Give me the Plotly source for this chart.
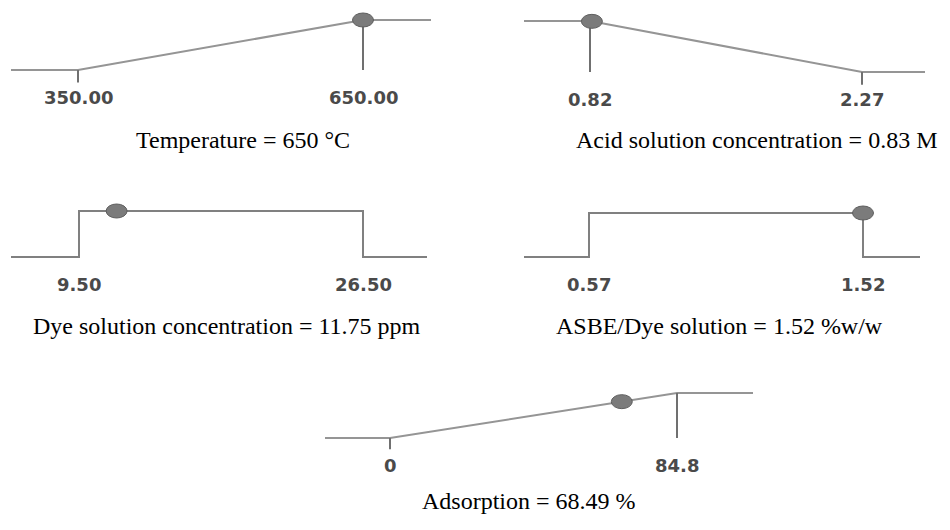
import numpy as np
import plotly.graph_objects as go

W, H = 950, 530

# ---- data ----
names = ["Temperature", "Acid solution concentration", "Dye solution concentration",
         "ASBE/Dye solution", "Adsorption"]
units = ["°C", "M", "ppm", "%w/w", "%"]
lows = [350.00, 0.82, 9.50, 0.57, 0.0]
highs = [650.00, 2.27, 26.50, 1.52, 84.8]
values = [650, 0.83, 11.75, 1.52, 68.49]
value_text = ["650", "0.83", "11.75", "1.52", "68.49"]
goals = ["maximize", "minimize", "in range", "in range", "maximize"]
low_labels = ["350.00", "0.82", "9.50", "0.57", "0"]
high_labels = ["650.00", "2.27", "26.50", "1.52", "84.8"]

# ---- layout (pixel positions of each panel) ----
# left end, low, high, right end, baseline y, top y, caption centre x, caption y
panels = [
    dict(xl=11, xlo=78, xhi=363, xr=431, y0=70, y1=20, cx=243, cy=140),
    dict(xl=524, xlo=590, xhi=862, xr=925, y0=72, y1=21, cx=756, cy=140),
    dict(xl=11, xlo=79, xhi=363, xr=427, y0=257, y1=211, cx=227, cy=326),
    dict(xl=524, xlo=589, xhi=863, xr=920, y0=257, y1=213, cx=719, cy=326),
    dict(xl=325, xlo=390, xhi=677, xr=753, y0=438, y1=393, cx=529, cy=501),
]

LINE = "#959595"
VLINE = "#707070"
PAD = 0.25

fig = go.Figure()
shapes = []
annotations = []
layout_axes = {}

for i, p in enumerate(panels):
    n = i + 1
    xa = "x" if n == 1 else f"x{n}"
    ya = "y" if n == 1 else f"y{n}"
    lo, hi = lows[i], highs[i]
    k = (hi - lo) / (p["xhi"] - p["xlo"])
    r0 = lo - (p["xlo"] - p["xl"]) * k
    r1 = hi + (p["xr"] - p["xhi"]) * k
    span = p["y0"] - p["y1"]
    dom_bot = 1 - (p["y0"] + PAD * span) / H
    dom_top = 1 - (p["y1"] - PAD * span) / H

    layout_axes["xaxis" if n == 1 else f"xaxis{n}"] = dict(
        domain=[p["xl"] / W, p["xr"] / W], range=[r0, r1], visible=False,
        anchor=ya, fixedrange=True)
    layout_axes["yaxis" if n == 1 else f"yaxis{n}"] = dict(
        domain=[dom_bot, dom_top], range=[-PAD, 1 + PAD], visible=False,
        anchor=xa, fixedrange=True)

    g = goals[i]
    if g == "maximize":
        px = [r0, lo, hi, r1]
        py = [0, 0, 1, 1]
        edge, tick_at = hi, lo
    elif g == "minimize":
        px = [r0, lo, hi, r1]
        py = [1, 1, 0, 0]
        edge, tick_at = lo, hi
    else:
        px = [r0, lo, lo, hi, hi, r1]
        py = [0, 0, 1, 1, 0, 0]
        edge, tick_at = None, None

    fig.add_trace(go.Scatter(x=px, y=py, mode="lines", xaxis=xa, yaxis=ya,
                             line=dict(color=LINE if edge is not None else "#808080",
                                       width=2),
                             hoverinfo="skip", showlegend=False))
    if edge is not None:
        fig.add_trace(go.Scatter(x=[edge, edge], y=[1, 0], mode="lines",
                                 xaxis=xa, yaxis=ya,
                                 line=dict(color=VLINE, width=2),
                                 hoverinfo="skip", showlegend=False))
        shapes.append(dict(type="line", xref=xa, yref=ya, x0=tick_at, x1=tick_at,
                           ysizemode="pixel", yanchor=0, y0=0, y1=-13,
                           line=dict(color=VLINE, width=2)))

    # desirability at the chosen value
    if g == "in range":
        d = 1.0 if lo <= values[i] <= hi else 0.0
    else:
        d = float(np.interp(values[i], px[1:3], py[1:3]))
    shapes.append(dict(type="circle", xref=xa, yref=ya,
                       xsizemode="pixel", ysizemode="pixel",
                       xanchor=values[i], yanchor=d,
                       x0=-10.5, x1=10.5, y0=-7, y1=7,
                       fillcolor="#7b7b7b", line=dict(color="#5e5e5e", width=1)))

    # tick labels
    for xv, txt in ((lo, low_labels[i]), (hi, high_labels[i])):
        annotations.append(dict(x=xv, y=0, xref=xa, yref=ya, text=txt,
                                showarrow=False, yanchor="top", yshift=-15,
                                font=dict(family="DejaVu Sans", size=18,
                                          weight="bold", color="#4a4a4a")))
    # caption
    annotations.append(dict(x=p["cx"] / W, y=1 - p["cy"] / H, xref="paper",
                            yref="paper",
                            text=f"{names[i]} = {value_text[i]} {units[i]}",
                            showarrow=False, xanchor="center", yanchor="middle",
                            font=dict(family="Liberation Serif", size=24,
                                      color="#000000")))

fig.update_layout(width=W, height=H, margin=dict(l=0, r=0, t=0, b=0),
                  paper_bgcolor="white", plot_bgcolor="white",
                  shapes=shapes, annotations=annotations, **layout_axes)

fig.write_html("out.html", config={"displayModeBar": False},
               post_script="document.body.style.margin='0px';")
